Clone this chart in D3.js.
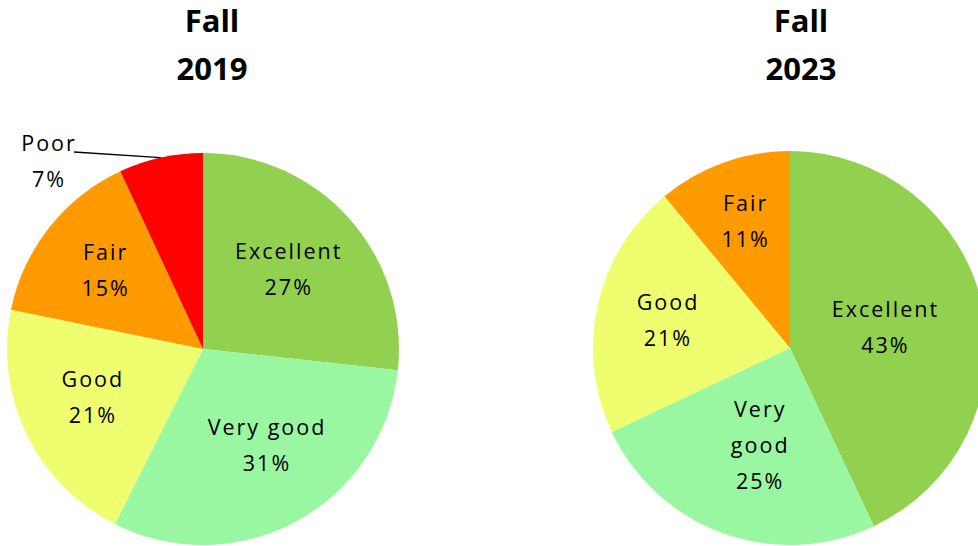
<!DOCTYPE html>
<html>
<head>
<meta charset="utf-8">
<script src="https://cdn.jsdelivr.net/npm/d3@7"></script>
<style>
  html, body { margin: 0; padding: 0; background: #ffffff; overflow: hidden; }
  svg { display: block; }
  .lbl { font-family: "Open Sans", sans-serif; font-size: 21.5px; fill: #000; letter-spacing: 2px; }
  .title { font-family: "Open Sans", sans-serif; font-size: 31px; font-weight: bold; fill: #000; }
</style>
</head>
<body>
<script>
// ---------- data ----------
const categories2019 = ["Excellent", "Very good", "Good", "Fair", "Poor"];
const values2019     = [27, 31, 21, 15, 7];
const categories2023 = ["Excellent", "Very good", "Good", "Fair"];
const values2023     = [43, 25, 21, 11];
const titles = [["Fall", "2019"], ["Fall", "2023"]];

// ---------- styling / layout ----------
const colorScale = d3.scaleOrdinal()
  .domain(["Excellent", "Very good", "Good", "Fair", "Poor"])
  .range(["#92D050", "#99F7A1", "#EEFE6F", "#FF9A00", "#FF0000"]);

const W = 978, H = 546;
const charts = [
  { cats: categories2019, vals: values2019, title: titles[0], cx: 203, cy: 349, r: 196, titleX: 212,
    labelLines: [["Excellent"], ["Very good"], ["Good"], ["Fair"], ["Poor"]],
    labelRadius: [0.59, 0.59, 0.62, 0.64, null],
    labelAngleShift: [-1, -4.5, 2, 0, 0] },
  { cats: categories2023, vals: values2023, title: titles[1], cx: 790, cy: 348, r: 197, titleX: 801,
    labelLines: [["Excellent"], ["Very", "good"], ["Good"], ["Fair"]],
    labelRadius: [0.49, 0.52, 0.64, 0.68],
    labelAngleShift: [0.7, -2.3, 0, 0] }
];
const lineH = 36;

const svg = d3.select("body").append("svg").attr("width", W).attr("height", H);

charts.forEach(ch => {
  const g = svg.append("g").attr("transform", `translate(${ch.cx},${ch.cy})`);
  const pie = d3.pie().sort(null).value(d => d.v);
  const data = ch.cats.map((c, i) => ({ c, v: ch.vals[i], i }));
  const arcs = pie(data);
  const total = d3.sum(ch.vals);
  const arc = d3.arc().innerRadius(0).outerRadius(ch.r);

  g.selectAll("path.slice").data(arcs).enter().append("path")
    .attr("class", "slice")
    .attr("d", arc)
    .attr("fill", d => colorScale(d.data.c));

  arcs.forEach((d, i) => {
    const pct = Math.round(d.data.v / total * 100) + "%";
    const lines = ch.labelLines[i].concat([pct]);
    const rf = ch.labelRadius[i];
    if (rf !== null) {
      const sh = ch.labelAngleShift[i] * Math.PI / 180;
      const shifted = { startAngle: d.startAngle + sh, endAngle: d.endAngle + sh };
      const la = d3.arc().innerRadius(0).outerRadius(2 * ch.r * rf);
      const [x, y] = la.centroid(shifted);
      const n = lines.length;
      const firstBase = y + 7 - (n - 1) * lineH / 2;
      const t = g.append("text").attr("class", "lbl").attr("text-anchor", "middle");
      lines.forEach((s, k) => {
        t.append("tspan").attr("x", x + 1).attr("y", firstBase + k * lineH).text(s);
      });
    } else {
      // outside label with leader line (Poor)
      const edge = d3.arc().innerRadius(ch.r).outerRadius(ch.r).centroid(d);
      const lx = 48 - ch.cx, ly = 151 - ch.cy;
      const t = g.append("text").attr("class", "lbl").attr("text-anchor", "middle");
      lines.forEach((s, k) => {
        t.append("tspan").attr("x", lx + 1).attr("y", ly + k * lineH).text(s);
      });
      g.append("line")
        .attr("x1", lx + 26).attr("y1", ly + 1)
        .attr("x2", edge[0]).attr("y2", edge[1])
        .attr("stroke", "#000").attr("stroke-width", 1.3);
    }
  });

  const tt = svg.append("text").attr("class", "title").attr("text-anchor", "middle");
  ch.title.forEach((s, k) => {
    tt.append("tspan").attr("x", ch.titleX).attr("y", 32 + k * 48).text(s);
  });
});
</script>
</body>
</html>
